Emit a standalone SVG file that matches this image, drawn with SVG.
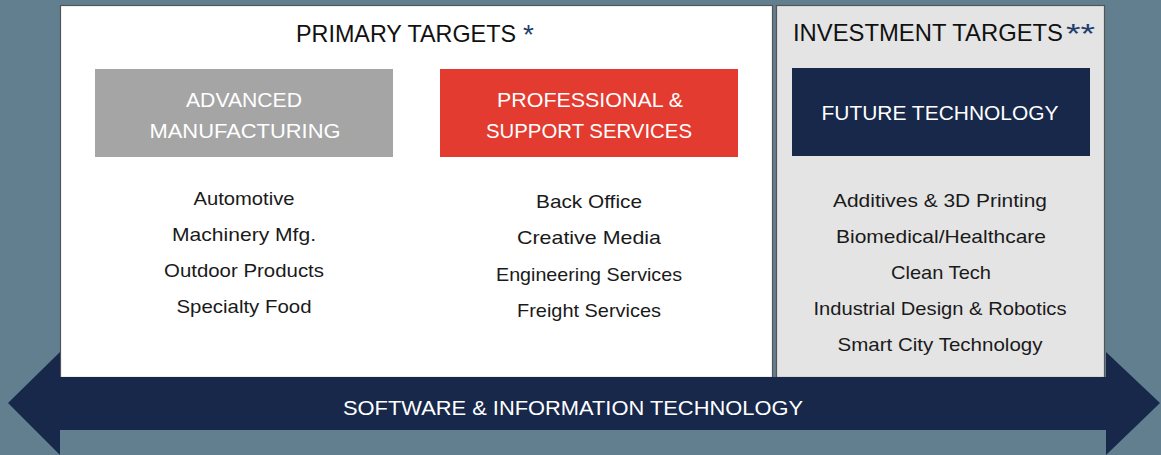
<svg xmlns="http://www.w3.org/2000/svg" width="1161" height="455" viewBox="0 0 1161 455">
<style>
.t{font-family:"Liberation Sans",Arial,sans-serif;}
.title{font-size:24px;fill:#111;}
.star{fill:#1f3f6e;font-size:28px;}
.hd{font-size:21px;fill:#fff;text-anchor:middle;}
.li{font-size:19px;fill:#1a1a1a;text-anchor:middle;}
.panel{stroke:#555;stroke-width:1.2;}
</style>
<rect width="1161" height="455" fill="#627f90"/>
<g id="primary-panel">
<rect class="panel" x="60.5" y="5.5" width="712" height="372" fill="#fff"/>
<text class="t title" x="296" y="42" textLength="220" lengthAdjust="spacingAndGlyphs">PRIMARY TARGETS</text>
<text class="t title star" x="523" y="44">*</text>
</g>
<g id="investment-panel">
<rect class="panel" x="776.5" y="5.5" width="328" height="372" fill="#e4e4e4"/>
<text class="t title" x="793" y="41" textLength="270" lengthAdjust="spacingAndGlyphs">INVESTMENT TARGETS</text>
<text class="t title star" x="1066" y="43" textLength="29" lengthAdjust="spacingAndGlyphs">**</text>
</g>
<g id="advanced-manufacturing">
<rect x="95" y="69" width="298" height="88" fill="#a5a5a5"/>
<text class="t hd" x="244" y="107" textLength="116" lengthAdjust="spacingAndGlyphs">ADVANCED</text>
<text class="t hd" x="245" y="138" textLength="191" lengthAdjust="spacingAndGlyphs">MANUFACTURING</text>
<text class="t li" x="244" y="205" textLength="101" lengthAdjust="spacingAndGlyphs">Automotive</text>
<text class="t li" x="244" y="241" textLength="144" lengthAdjust="spacingAndGlyphs">Machinery Mfg.</text>
<text class="t li" x="244" y="277" textLength="160" lengthAdjust="spacingAndGlyphs">Outdoor Products</text>
<text class="t li" x="244" y="313" textLength="135" lengthAdjust="spacingAndGlyphs">Specialty Food</text>
</g>
<g id="professional-support-services">
<rect x="440" y="69" width="298" height="88" fill="#e33b2f"/>
<text class="t hd" x="590" y="107" textLength="186" lengthAdjust="spacingAndGlyphs">PROFESSIONAL &amp;</text>
<text class="t hd" x="589" y="138" textLength="206" lengthAdjust="spacingAndGlyphs">SUPPORT SERVICES</text>
<text class="t li" x="589" y="208" textLength="106" lengthAdjust="spacingAndGlyphs">Back Office</text>
<text class="t li" x="589" y="244" textLength="144" lengthAdjust="spacingAndGlyphs">Creative Media</text>
<text class="t li" x="589" y="281" textLength="186" lengthAdjust="spacingAndGlyphs">Engineering Services</text>
<text class="t li" x="589" y="317" textLength="144" lengthAdjust="spacingAndGlyphs">Freight Services</text>
</g>
<g id="future-technology">
<rect x="792" y="68" width="298" height="88" fill="#17284b"/>
<text class="t hd" x="940" y="120" textLength="237" lengthAdjust="spacingAndGlyphs">FUTURE TECHNOLOGY</text>
<text class="t li" x="940" y="207" textLength="214" lengthAdjust="spacingAndGlyphs">Additives &amp; 3D Printing</text>
<text class="t li" x="941" y="243" textLength="210" lengthAdjust="spacingAndGlyphs">Biomedical/Healthcare</text>
<text class="t li" x="941" y="279" textLength="100" lengthAdjust="spacingAndGlyphs">Clean Tech</text>
<text class="t li" x="940" y="315" textLength="253" lengthAdjust="spacingAndGlyphs">Industrial Design &amp; Robotics</text>
<text class="t li" x="940" y="351" textLength="205" lengthAdjust="spacingAndGlyphs">Smart City Technology</text>
</g>
<g id="connectors">
<g id="software-it-arrow">
<polygon points="8,403 60,352 60,377 1106,377 1106,352 1160,403 1106,455 1106,430 60,430 60,455" fill="#17284b"/>
<text class="t" x="573" y="415" font-size="21" fill="#fff" text-anchor="middle" textLength="460" lengthAdjust="spacingAndGlyphs">SOFTWARE &amp; INFORMATION TECHNOLOGY</text>
</g>
</g>
</svg>
